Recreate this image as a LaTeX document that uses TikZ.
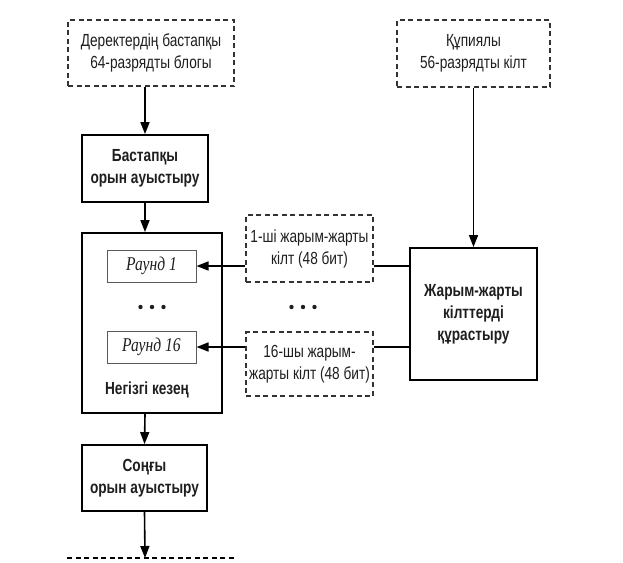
\documentclass[tikz,border=0pt]{standalone}
\usepackage{fontspec}
\setmainfont[FakeStretch=0.78]{Liberation Sans}
\newfontfamily\rfont[FakeStretch=0.8]{Liberation Serif}
\usetikzlibrary{arrows.meta}
\definecolor{txt}{HTML}{1E1E1E}
\tikzset{
  base/.style={rectangle, align=center, text=txt, inner sep=0pt, font=\fontsize{17.5}{22}\selectfont},
  dbox/.style={base, draw=black!80, line width=1.3pt, dash pattern=on 5pt off 3.5pt},
  sbox/.style={base, draw=black, line width=1.9pt, font=\fontsize{17.5}{22}\selectfont\bfseries},
  rbox/.style={base, draw=black!65, line width=1pt, font=\rfont\itshape\fontsize{19.5}{22}\selectfont},
  arr/.style={line width=1.6pt, -{Triangle[length=12pt,width=9pt]}},
  ln/.style={line width=1.6pt}
}
\begin{document}
\begin{tikzpicture}[x=1pt,y=-1pt]
\useasboundingbox (0,0) rectangle (623,562);
\node[dbox, minimum width=166pt, minimum height=66pt] (blk) at (151,53) {Деректердің бастапқы\\64-разрядты блогы};
\node[dbox, minimum width=153pt, minimum height=67pt] (key) at (473.5,53.5) {Құпиялы\\56-разрядты кілт};
\node[sbox, minimum width=126pt, minimum height=67pt] (ip) at (145,168.5) {Бастапқы\\орын ауыстыру};
\node[sbox, minimum width=140pt, minimum height=180pt] (main) at (152,323) {};
\node[rbox, minimum width=89pt, minimum height=32pt] (r1) at (151.5,266) {Раунд 1};
\node[rbox, minimum width=89pt, minimum height=32pt] (r16) at (151.5,347) {Раунд 16};
\node[base, font=\fontsize{17.5}{22}\selectfont\bfseries] (lbl) at (147,390) {Негізгі кезең};
\node[dbox, minimum width=127pt, minimum height=67pt] (k1) at (309.5,248.5) {1-ші жарым-жарты\\кілт (48 бит)};
\node[dbox, minimum width=127pt, minimum height=64pt] (k16) at (309.5,364) {16-шы жарым-\\жарты кілт (48 бит)};
\node[sbox, minimum width=127pt, minimum height=132pt] (gen) at (473.5,314) {Жарым-жарты\\кілттерді\\құрастыру};
\node[sbox, minimum width=125pt, minimum height=66pt] (fp) at (144.5,478) {Соңғы\\орын ауыстыру};
\foreach \x in {140.5,152,163.5} \fill[txt] (\x,307) circle (2.2pt);
\foreach \x in {291.5,303,314.5} \fill[txt] (\x,307) circle (2.2pt);
\coordinate (outL) at (67,558);
\coordinate (outR) at (235,558);
\coordinate (outM) at (145,558);
\draw[line width=1.3pt, dash pattern=on 5pt off 3.5pt] (outL) -- (outR);
\draw[arr] (blk.south -| ip.center) -- (ip.north);
\draw[arr] (ip.south) -- (ip.south |- main.north);
\draw[arr] (main.south -| ip.center) -- (fp.north);
\draw[arr] (fp.south) -- (outM);
\draw[arr] (key.south) -- (gen.north -| key.south);
\draw[arr] (r1.east -| k1.west) -- (r1.east);
\draw[arr] (r16.east -| k16.west) -- (r16.east);
\draw[ln] (r1.east -| gen.west) -- (r1.east -| k1.east);
\draw[ln] (r16.east -| gen.west) -- (r16.east -| k16.east);
\end{tikzpicture}
\end{document}
